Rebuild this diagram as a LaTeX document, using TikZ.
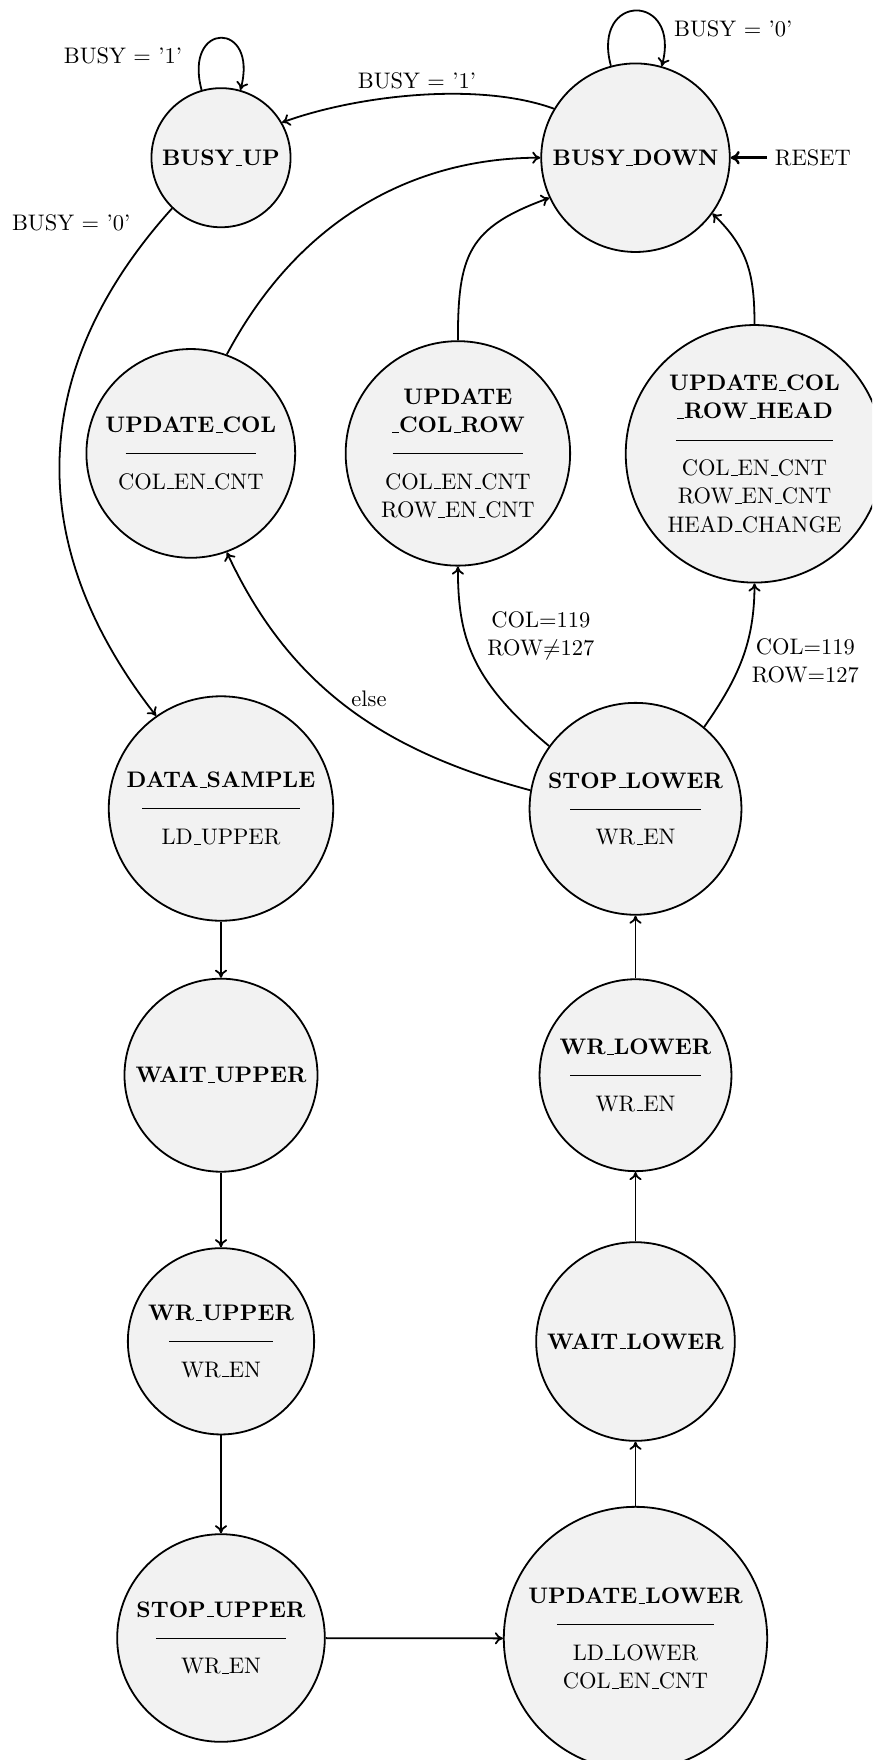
\documentclass[tikz,border=0pt]{standalone}
\usetikzlibrary{arrows.meta}
% underscore drawn as a thin rule on the baseline
\newcommand{\us}{\leavevmode\kern.06em\vbox{\hrule width.3em}}
% separator between state name and its outputs
\newcommand{\sep}[1]{\rule[3pt]{#1}{0.4pt}}

\begin{document}
\begin{tikzpicture}[x=0.445pt,y=-0.445pt,
  state/.style={circle, draw, line width=0.8pt, fill=black!5, inner sep=0pt,
    align=center, font=\fontsize{10}{12.6}\selectfont},
  edge/.style={line width=0.8pt, -{To[length=3.6pt,width=5.4pt]}},
  lbl/.style={inner sep=0pt, align=center, font=\fontsize{10}{12.6}\selectfont}]
\useasboundingbox (0,0) rectangle (872,1760);
\clip (0,0) rectangle (872,1760);

% states
\node[state, minimum size=61.9pt]  (bu)   at (221,157.7)   {\textbf{BUSY\us UP}};
\node[state, minimum size=83.9pt]  (bd)   at (635.5,157.7) {\textbf{BUSY\us DOWN}};
\node[state, minimum size=92.9pt]  (uc)   at (190.8,453.4) {\textbf{UPDATE\us COL}\\\sep{58pt}\\COL\us EN\us CNT};
\node[state, minimum size=99.9pt]  (ucr)  at (457.9,453.4) {\textbf{UPDATE}\\\textbf{\us COL\us ROW}\\\sep{58pt}\\COL\us EN\us CNT\\ROW\us EN\us CNT};
\node[state, minimum size=114.6pt] (ucrh) at (754.5,453.8) {\textbf{UPDATE\us COL}\\\textbf{\us ROW\us HEAD}\\\sep{70pt}\\COL\us EN\us CNT\\ROW\us EN\us CNT\\HEAD\us CHANGE};
\node[state, minimum size=99.9pt]  (ds)   at (221,808.5)   {\textbf{DATA\us SAMPLE}\\\sep{70pt}\\LD\us UPPER};
\node[state, minimum size=94.3pt]  (sl)   at (635.5,808.8) {\textbf{STOP\us LOWER}\\\sep{58pt}\\WR\us EN};
\node[state, minimum size=85.9pt]  (wu)   at (221,1075.2)  {\textbf{WAIT\us UPPER}};
\node[state, minimum size=85.4pt]  (wl)   at (635.5,1075.2){\textbf{WR\us LOWER}\\\sep{58pt}\\WR\us EN};
\node[state, minimum size=82.9pt]  (wru)  at (221,1341.3)  {\textbf{WR\us UPPER}\\\sep{46pt}\\WR\us EN};
\node[state, minimum size=88.4pt]  (wal)  at (635.5,1341.5){\textbf{WAIT\us LOWER}};
\node[state, minimum size=92.4pt]  (su)   at (221,1638)    {\textbf{STOP\us UPPER}\\\sep{58pt}\\WR\us EN};
\node[state, minimum size=117.2pt] (ul)   at (635.5,1638.5){\textbf{UPDATE\us LOWER}\\\sep{70pt}\\LD\us LOWER\\COL\us EN\us CNT};

% reset input and transition labels
\node[lbl, inner xsep=3.3pt] (reset) at (812.9,157.7) {RESET};
\node[lbl] (lbu)   at (123,56)      {BUSY = ’1’};
\node[lbl] (lbz)   at (71.2,222.8)  {BUSY = ’0’};
\node[lbl] (lbo)   at (417,81)      {BUSY = ’1’};
\node[lbl] (lbd)   at (733.3,29)    {BUSY = ’0’};
\node[lbl] (lcr)   at (540.8,635.8) {COL=119\\ROW$\neq$127};
\node[lbl] (lcrh)  at (805.3,660.8) {COL=119\\ROW=127};
\node[lbl] (lels)  at (369,699)     {else};

% self loops
\draw[edge] (bu.106) .. controls +(105:32pt) and +(75:32pt) .. (bu.74);
\draw[edge] (bd.105) .. controls +(105:34pt) and +(75:34pt) .. (bd.74);

% transitions around the top
\draw[edge] (bd.149) .. controls +(160:35.6pt) and +(20:35.6pt) .. (bu.30);
\draw[edge] (bu.226) .. controls +(-132:96.4pt) and +(128:96.4pt) .. (ds.125);
\draw[edge] (uc.70) .. controls +(62:71.2pt) and +(180:53.4pt) .. (bd.west);
\draw[edge] (ucr.north) .. controls +(90:38.3pt) and +(200:38.3pt) .. (bd.205);
\draw[edge] (ucrh.north) .. controls +(90:22pt) and +(-44:22pt) .. (bd.-36);
\draw[line width=1.1pt, -{To[length=4pt,width=6pt]}] (reset) -- (bd);

% transitions leaving STOP_LOWER
\draw[edge] (sl.170) .. controls +(165:66.8pt) and +(-65:66.8pt) .. (uc.-70);
\draw[edge] (sl.144) .. controls +(140:45.7pt) and +(-90:31.2pt) .. (ucr.south);
\draw[edge] (sl.50) .. controls +(55:26.4pt) and +(-90:26.4pt) .. (ucrh.south);

% main sequence
\draw[edge] (ds) -- (wu);
\draw[edge] (wu) -- (wru);
\draw[edge] (wru) -- (su);
\draw[edge] (su) -- (ul);
\draw[edge] (ul) -- (wal);
\draw[edge] (wal) -- (wl);
\draw[edge] (wl) -- (sl);
\end{tikzpicture}
\end{document}
